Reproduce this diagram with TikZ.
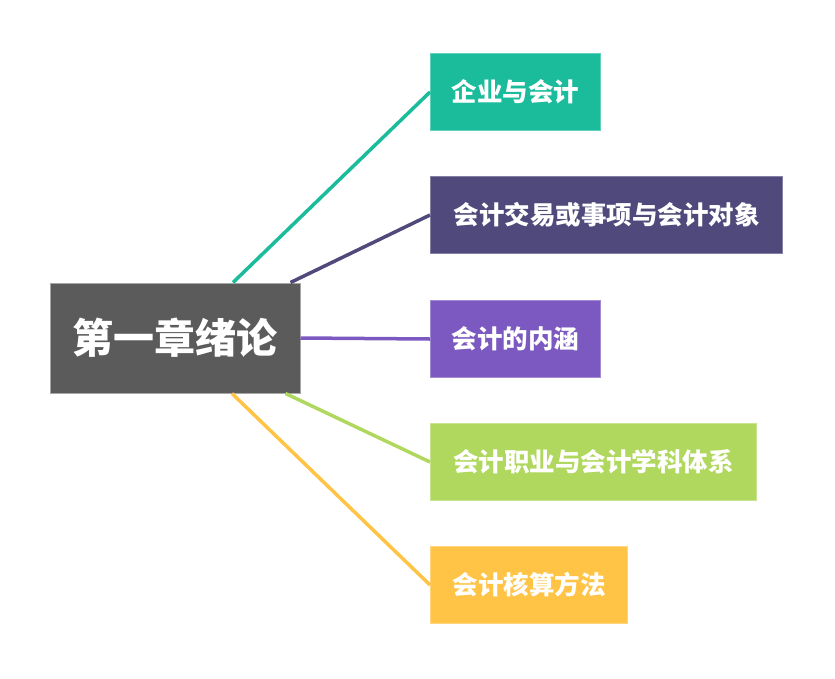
\documentclass[tikz,border=0pt]{standalone}
\usepackage{fontspec}
\setmainfont{Noto Sans CJK SC}
\usetikzlibrary{positioning}

\definecolor{rootgray}{HTML}{5B5B5B}
\definecolor{cteal}{HTML}{1ABC9C}
\definecolor{cnavy}{HTML}{4F4A7B}
\definecolor{cpurple}{HTML}{7B59C0}
\definecolor{cgreen}{HTML}{B0D85E}
\definecolor{cyellow}{HTML}{FFC445}

\tikzset{
	rootbox/.style={fill=rootgray, draw=gray!70, line width=1pt, text=white, font=\bfseries\fontsize{41}{43}\selectfont, minimum width=250pt, minimum height=110pt, inner sep=0pt},
	topic/.style={fill=#1, draw=#1!70!white, line width=1pt, text=white, font=\bfseries\fontsize{25.5}{27}\selectfont, minimum height=77pt, inner sep=0pt, anchor=north west},
	branch/.style={draw=#1, line width=3.5pt}
}

\begin{document}
\begin{tikzpicture}[x=1pt, y=-1pt]
		\useasboundingbox (0, 0) rectangle (835, 678);
		\node[rootbox] (root) at (175, 338) {第一章绪论};
		\node[topic=cteal, minimum width=170pt] (qiye) at (430, 53) {企业与会计};
		\node[topic=cnavy, minimum width=352pt] (duixiang) at (430, 176) {会计交易或事项与会计对象};
		\node[topic=cpurple, minimum width=170pt] (neihan) at (430, 300) {会计的内涵};
		\node[topic=cgreen, minimum width=326pt] (zhiye) at (430, 423) {会计职业与会计学科体系};
		\node[topic=cyellow, minimum width=197pt] (fangfa) at (430, 546) {会计核算方法};
		\draw[branch=cteal] ([xshift=58pt]root.north) -- (qiye.west);
		\draw[branch=cnavy] ([xshift=-10pt]root.north east) -- (duixiang.west);
		\draw[branch=cpurple] (root.east) -- (neihan.west);
		\draw[branch=cgreen] ([xshift=-15pt]root.south east) -- (zhiye.west);
		\draw[branch=cyellow] ([xshift=57pt]root.south) -- (fangfa.west);
	\end{tikzpicture}
\end{document}
